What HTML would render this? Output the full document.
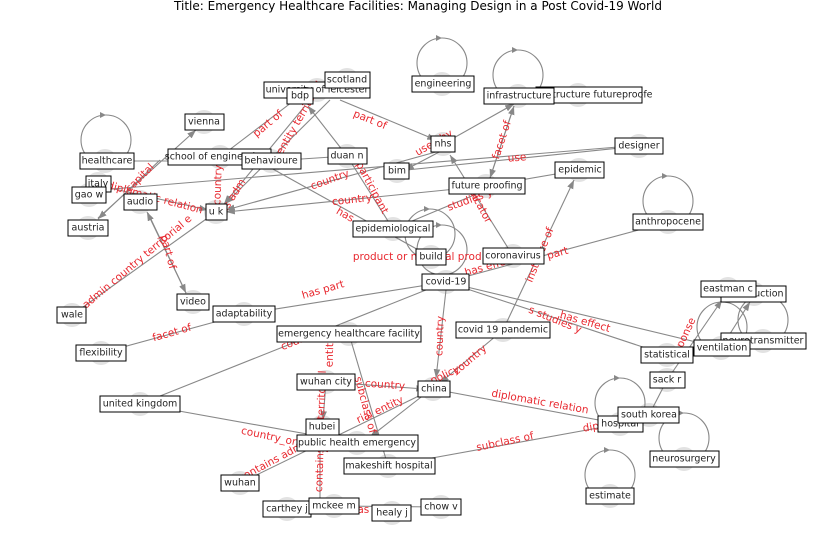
<!DOCTYPE html>
<html><head><meta charset="utf-8"><style>
html,body{margin:0;padding:0;background:#fff;width:837px;height:559px;overflow:hidden}
svg text{font-family:"DejaVu Sans","Liberation Sans",sans-serif}
.e{stroke:#888;stroke-width:1.1;fill:none}
.l{fill:#e8282f;font-size:10.5px;text-anchor:middle;dominant-baseline:middle}
.n{font-size:9.5px;fill:#222;text-anchor:middle;dominant-baseline:middle}
.b{fill:#fff;stroke:#000;stroke-width:1}
.c{fill:#e2e2e2}
.h{fill:#888}
</style></head><body>
<svg width="837" height="559" viewBox="0 0 837 559" xmlns="http://www.w3.org/2000/svg">
<defs><marker id="a" markerWidth="8" markerHeight="6" refX="8" refY="3" orient="auto"><path d="M0,0 L8,3 L0,6z" fill="#888"/></marker></defs>
<text x="418" y="10" font-size="12" text-anchor="middle" fill="#000">Title: Emergency Healthcare Facilities: Managing Design in a Post Covid-19 World</text>
<g class="c">
<circle cx="105" cy="161" r="12"/><circle cx="204" cy="122" r="12"/><circle cx="220" cy="157" r="12"/><circle cx="271" cy="161" r="12"/><circle cx="98" cy="184" r="12"/><circle cx="89" cy="195" r="12"/><circle cx="140" cy="202" r="12"/><circle cx="216" cy="212" r="12"/><circle cx="88" cy="228" r="12"/><circle cx="317" cy="90" r="12"/><circle cx="347" cy="80" r="12"/><circle cx="347" cy="156" r="12"/><circle cx="442" cy="84" r="12"/><circle cx="518" cy="96" r="12"/><circle cx="578" cy="95" r="12"/><circle cx="443" cy="144" r="12"/><circle cx="397" cy="171" r="12"/><circle cx="639" cy="146" r="12"/><circle cx="579" cy="170" r="12"/><circle cx="486" cy="186" r="12"/><circle cx="668" cy="222" r="12"/><circle cx="393" cy="229" r="12"/><circle cx="431" cy="257" r="12"/><circle cx="513" cy="256" r="12"/><circle cx="446" cy="282" r="12"/><circle cx="728" cy="289" r="12"/><circle cx="754" cy="294" r="12"/><circle cx="193" cy="302" r="12"/><circle cx="72" cy="315" r="12"/><circle cx="244" cy="314" r="12"/><circle cx="349" cy="334" r="12"/><circle cx="503" cy="330" r="12"/><circle cx="763" cy="341" r="12"/><circle cx="721" cy="348" r="12"/><circle cx="667" cy="355" r="12"/><circle cx="667" cy="380" r="12"/><circle cx="101" cy="353" r="12"/><circle cx="326" cy="382" r="12"/><circle cx="433" cy="389" r="12"/><circle cx="140" cy="404" r="12"/><circle cx="649" cy="415" r="12"/><circle cx="620" cy="424" r="12"/><circle cx="322" cy="427" r="12"/><circle cx="357" cy="443" r="12"/><circle cx="684" cy="459" r="12"/><circle cx="388" cy="466" r="12"/><circle cx="240" cy="483" r="12"/><circle cx="610" cy="496" r="12"/><circle cx="287" cy="509" r="12"/><circle cx="334" cy="506" r="12"/><circle cx="392" cy="513" r="12"/><circle cx="441" cy="507" r="12"/>
</g>
<g class="e">
<circle cx="106" cy="140" r="25"/><circle cx="442" cy="63" r="25"/><circle cx="518" cy="75" r="25"/><circle cx="668" cy="201" r="25"/><circle cx="430" cy="234" r="25"/><circle cx="442" cy="250" r="25"/><circle cx="620" cy="403" r="25"/><circle cx="684" cy="438" r="25"/><circle cx="610" cy="475" r="25"/><circle cx="722" cy="327" r="25"/><circle cx="763" cy="320" r="25"/>
<line x1="105" y1="161" x2="271" y2="161"/>
<line x1="98" y1="218" x2="196" y2="130" marker-end="url(#a)"/>
<line x1="160" y1="160" x2="98" y2="219" marker-end="url(#a)"/>
<line x1="110" y1="188" x2="208" y2="210" marker-end="url(#a)"/>
<line x1="100" y1="190" x2="630" y2="146"/>
<line x1="148" y1="213" x2="186" y2="293" marker-end="url(#a)"/>
<line x1="186" y1="293" x2="147" y2="212" marker-end="url(#a)"/>
<line x1="72" y1="315" x2="216" y2="212"/>
<line x1="220" y1="157" x2="300" y2="96"/>
<line x1="305" y1="106" x2="224" y2="204" marker-end="url(#a)"/>
<line x1="330" y1="100" x2="225" y2="204" marker-end="url(#a)"/>
<line x1="340" y1="100" x2="436" y2="140" marker-end="url(#a)"/>
<line x1="347" y1="156" x2="308" y2="106" marker-end="url(#a)"/>
<line x1="347" y1="156" x2="271" y2="161"/>
<line x1="271" y1="168" x2="431" y2="257"/>
<line x1="347" y1="156" x2="393" y2="229"/>
<line x1="486" y1="186" x2="226" y2="212" marker-end="url(#a)"/>
<line x1="443" y1="150" x2="226" y2="210" marker-end="url(#a)"/>
<line x1="443" y1="144" x2="514" y2="104" marker-end="url(#a)"/>
<line x1="443" y1="150" x2="405" y2="170" marker-end="url(#a)"/>
<line x1="397" y1="171" x2="639" y2="146"/>
<line x1="514" y1="106" x2="490" y2="178" marker-end="url(#a)"/>
<line x1="490" y1="178" x2="514" y2="106" marker-end="url(#a)"/>
<line x1="486" y1="186" x2="579" y2="170"/>
<line x1="513" y1="256" x2="450" y2="155" marker-end="url(#a)"/>
<line x1="393" y1="229" x2="486" y2="190"/>
<line x1="446" y1="282" x2="668" y2="222"/>
<line x1="244" y1="314" x2="446" y2="282"/>
<line x1="503" y1="330" x2="574" y2="180" marker-end="url(#a)"/>
<line x1="446" y1="282" x2="667" y2="355"/>
<line x1="446" y1="282" x2="721" y2="348"/>
<line x1="446" y1="290" x2="436" y2="378" marker-end="url(#a)"/>
<line x1="446" y1="282" x2="140" y2="404"/>
<line x1="101" y1="353" x2="244" y2="314"/>
<line x1="503" y1="330" x2="440" y2="383" marker-end="url(#a)"/>
<line x1="326" y1="382" x2="425" y2="389" marker-end="url(#a)"/>
<line x1="425" y1="394" x2="370" y2="437" marker-end="url(#a)"/>
<line x1="433" y1="389" x2="620" y2="424"/>
<line x1="388" y1="466" x2="620" y2="424"/>
<line x1="349" y1="334" x2="388" y2="466"/>
<line x1="140" y1="404" x2="357" y2="443"/>
<line x1="326" y1="382" x2="323" y2="420" marker-end="url(#a)"/>
<line x1="240" y1="483" x2="433" y2="389"/>
<line x1="320" y1="430" x2="320" y2="505"/>
<line x1="334" y1="506" x2="441" y2="507"/>
<line x1="649" y1="415" x2="667" y2="380"/>
<line x1="667" y1="380" x2="722" y2="300" marker-end="url(#a)"/>
<line x1="721" y1="348" x2="750" y2="302" marker-end="url(#a)"/>
</g>
<g class="h">
<path d="M100,112 l6,3 l-6,3z"/><path d="M436,35 l6,3 l-6,3z"/><path d="M512,47 l6,3 l-6,3z"/><path d="M662,173 l6,3 l-6,3z"/><path d="M424,206 l6,3 l-6,3z"/><path d="M436,222 l6,3 l-6,3z"/><path d="M614,375 l6,3 l-6,3z"/><path d="M678,410 l6,3 l-6,3z"/><path d="M604,447 l6,3 l-6,3z"/>
</g>
<g class="l">
<text x="140" y="178" transform="rotate(-45 140 178)">capital</text>
<text x="155" y="198" transform="rotate(15 155 198)">diplomatic relation</text>
<text x="268" y="124" transform="rotate(-40 268 124)">part of</text>
<text x="370" y="120" transform="rotate(22 370 120)">part of</text>
<text x="300" y="118" transform="rotate(-60 300 118)">entity territorial</text>
<text x="232" y="198" transform="rotate(-58 232 198)">ms adm</text>
<text x="218" y="185" transform="rotate(-88 218 185)">country</text>
<text x="168" y="252" transform="rotate(75 168 252)">part of</text>
<text x="130" y="268" transform="rotate(-40 130 268)">ms admin country territorial e</text>
<text x="330" y="180" transform="rotate(-20 330 180)">country</text>
<text x="352" y="200" transform="rotate(-6 352 200)">country</text>
<text x="372" y="188" transform="rotate(62 372 188)">participant</text>
<text x="345" y="215" transform="rotate(30 345 215)">has</text>
<text x="430" y="128" transform="rotate(-30 460 128)">used by</text>
<text x="502" y="140" transform="rotate(-72 502 140)">facet of</text>
<text x="517" y="158" transform="rotate(-5 517 158)">use</text>
<text x="478" y="202" transform="rotate(62 478 202)">indicator</text>
<text x="470" y="200" transform="rotate(-20 470 200)">studies y</text>
<text x="430" y="257">product or material produced</text>
<text x="552" y="255" transform="rotate(-16 552 255)">is part</text>
<text x="540" y="255" transform="rotate(-68 540 255)">instance of</text>
<text x="490" y="266" transform="rotate(-16 490 266)">has effect</text>
<text x="323" y="290" transform="rotate(-16 323 290)">has part</text>
<text x="172" y="333" transform="rotate(-16 172 333)">facet of</text>
<text x="585" y="322" transform="rotate(16 585 322)">has effect</text>
<text x="555" y="320" transform="rotate(22 555 320)">s studies y</text>
<text x="440" y="336" transform="rotate(-88 440 336)">country</text>
<text x="330" y="352" transform="rotate(-88 330 352)">entity</text>
<text x="300" y="340" transform="rotate(-22 300 340)">country</text>
<text x="385" y="385" transform="rotate(4 385 385)">country</text>
<text x="470" y="360" transform="rotate(-40 470 360)">country</text>
<text x="445" y="375" transform="rotate(-25 445 375)">policy</text>
<text x="365" y="405" transform="rotate(75 365 405)">subclass of</text>
<text x="540" y="402" transform="rotate(10 540 402)">diplomatic relation</text>
<text x="505" y="442" transform="rotate(-12 505 442)">subclass of</text>
<text x="610" y="424" transform="rotate(-10 610 424)">diplomatic</text>
<text x="285" y="440" transform="rotate(12 285 440)">country_ontinent</text>
<text x="380" y="410" transform="rotate(-25 380 410)">rial entity</text>
<text x="275" y="460" transform="rotate(-28 275 460)">contains admin</text>
<text x="320" y="465" transform="rotate(-88 320 465)">contains a</text>
<text x="322" y="395" transform="rotate(-88 322 395)">territorial</text>
<text x="683" y="340" transform="rotate(-65 683 340)">response</text>
<text x="360" y="510">has</text>
</g>
<g>
<rect class="b" x="80" y="153" width="54" height="16"/><text class="n" x="107" y="161">healthcare</text>
<rect class="b" x="185" y="114" width="39" height="16"/><text class="n" x="204" y="122">vienna</text>
<rect class="b" x="168" y="149" width="103" height="16"/><text class="n" x="216" y="157">school of engineering</text>
<rect class="b" x="242" y="153" width="59" height="16"/><text class="n" x="271" y="161">behavioure</text>
<rect class="b" x="86" y="176" width="25" height="16"/><text class="n" x="98" y="184">italy</text>
<rect class="b" x="72" y="187" width="34" height="16"/><text class="n" x="89" y="195">gao w</text>
<rect class="b" x="124" y="194" width="33" height="16"/><text class="n" x="140" y="202">audio</text>
<rect class="b" x="206" y="204" width="21" height="16"/><text class="n" x="216" y="212">u k</text>
<rect class="b" x="68" y="220" width="40" height="16"/><text class="n" x="88" y="228">austria</text>
<rect class="b" x="264" y="82" width="106" height="16"/><text class="n" x="317" y="90">university of leicester</text>
<rect class="b" x="325" y="72" width="45" height="16"/><text class="n" x="347" y="80">scotland</text>
<rect class="b" x="287" y="88" width="26" height="16"/><text class="n" x="300" y="96">bdp</text>
<rect class="b" x="328" y="148" width="39" height="16"/><text class="n" x="347" y="156">duan n</text>
<rect class="b" x="412" y="76" width="62" height="16"/><text class="n" x="443" y="84">engineering</text>
<rect class="b" x="536" y="87" width="106" height="16"/><text class="n" x="589" y="95">infrastructure futureproofe</text>
<rect class="b" x="484" y="88" width="70" height="16"/><text class="n" x="519" y="96">infrastructure</text>
<rect class="b" x="431" y="136" width="24" height="16"/><text class="n" x="443" y="144">nhs</text>
<rect class="b" x="384" y="163" width="25" height="16"/><text class="n" x="397" y="171">bim</text>
<rect class="b" x="615" y="138" width="48" height="16"/><text class="n" x="639" y="146">designer</text>
<rect class="b" x="555" y="162" width="49" height="16"/><text class="n" x="580" y="170">epidemic</text>
<rect class="b" x="449" y="178" width="76" height="16"/><text class="n" x="487" y="186">future proofing</text>
<rect class="b" x="633" y="214" width="70" height="16"/><text class="n" x="668" y="222">anthropocene</text>
<rect class="b" x="353" y="221" width="80" height="16"/><text class="n" x="393" y="229">epidemiological</text>
<rect class="b" x="416" y="249" width="30" height="16"/><text class="n" x="431" y="257">build</text>
<rect class="b" x="483" y="248" width="61" height="16"/><text class="n" x="513" y="256">coronavirus</text>
<rect class="b" x="422" y="274" width="47" height="16"/><text class="n" x="446" y="282">covid-19</text>
<rect class="b" x="721" y="286" width="65" height="16"/><text class="n" x="754" y="294">construction</text>
<rect class="b" x="701" y="281" width="55" height="16"/><text class="n" x="728" y="289">eastman c</text>
<rect class="b" x="177" y="294" width="32" height="16"/><text class="n" x="193" y="302">video</text>
<rect class="b" x="57" y="307" width="29" height="16"/><text class="n" x="72" y="315">wale</text>
<rect class="b" x="213" y="306" width="62" height="16"/><text class="n" x="244" y="314">adaptability</text>
<rect class="b" x="277" y="326" width="144" height="16"/><text class="n" x="349" y="334">emergency healthcare facility</text>
<rect class="b" x="456" y="322" width="94" height="16"/><text class="n" x="503" y="330">covid 19 pandemic</text>
<rect class="b" x="721" y="333" width="85" height="16"/><text class="n" x="763" y="341">neurotransmitter</text>
<rect class="b" x="694" y="340" width="56" height="16"/><text class="n" x="722" y="348">ventilation</text>
<rect class="b" x="641" y="347" width="52" height="16"/><text class="n" x="667" y="355">statistical</text>
<rect class="b" x="650" y="372" width="35" height="16"/><text class="n" x="667" y="380">sack r</text>
<rect class="b" x="76" y="345" width="50" height="16"/><text class="n" x="101" y="353">flexibility</text>
<rect class="b" x="297" y="374" width="58" height="16"/><text class="n" x="326" y="382">wuhan city</text>
<rect class="b" x="418" y="381" width="32" height="16"/><text class="n" x="434" y="389">china</text>
<rect class="b" x="100" y="396" width="80" height="16"/><text class="n" x="140" y="404">united kingdom</text>
<rect class="b" x="598" y="416" width="45" height="16"/><text class="n" x="620" y="424">hospital</text>
<rect class="b" x="618" y="407" width="61" height="16"/><text class="n" x="649" y="415">south korea</text>
<rect class="b" x="306" y="419" width="33" height="16"/><text class="n" x="322" y="427">hubei</text>
<rect class="b" x="297" y="435" width="121" height="16"/><text class="n" x="357" y="443">public health emergency</text>
<rect class="b" x="650" y="451" width="69" height="16"/><text class="n" x="684" y="459">neurosurgery</text>
<rect class="b" x="344" y="458" width="91" height="16"/><text class="n" x="389" y="466">makeshift hospital</text>
<rect class="b" x="221" y="475" width="38" height="16"/><text class="n" x="240" y="483">wuhan</text>
<rect class="b" x="586" y="488" width="48" height="16"/><text class="n" x="610" y="496">estimate</text>
<rect class="b" x="263" y="501" width="48" height="16"/><text class="n" x="287" y="509">carthey j</text>
<rect class="b" x="309" y="498" width="50" height="16"/><text class="n" x="334" y="506">mckee m</text>
<rect class="b" x="372" y="505" width="39" height="16"/><text class="n" x="392" y="513">healy j</text>
<rect class="b" x="421" y="499" width="40" height="16"/><text class="n" x="441" y="507">chow v</text>
</g>
</svg>
</body></html>
